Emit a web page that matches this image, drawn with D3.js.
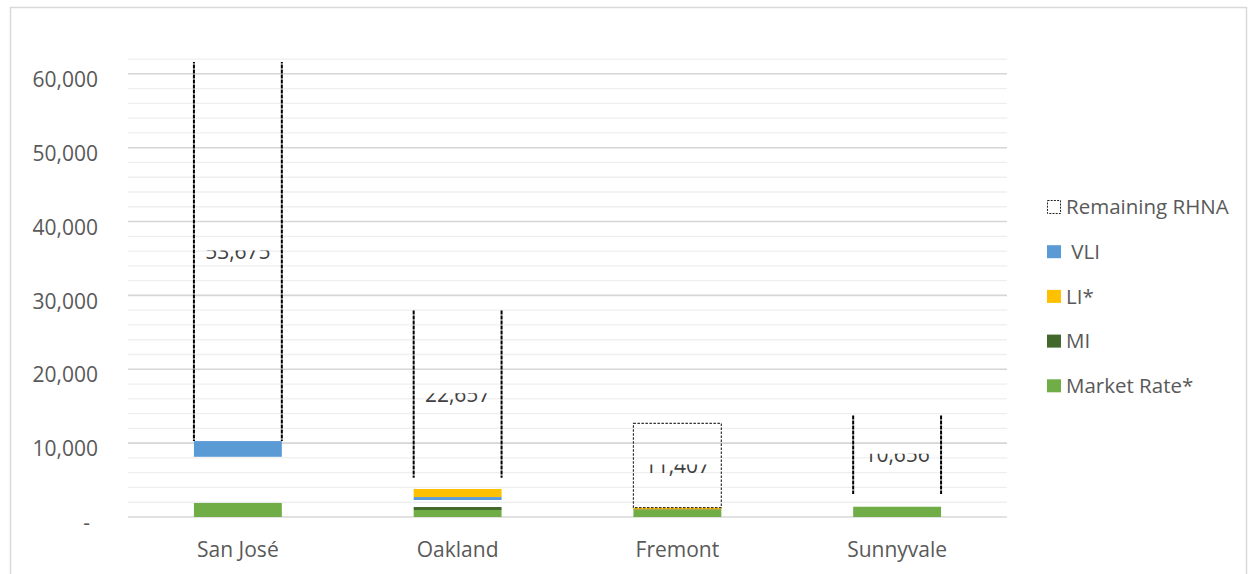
<!DOCTYPE html>
<html>
<head>
<meta charset="utf-8">
<script src="https://cdn.jsdelivr.net/npm/d3@7"></script>
<style>
  body { margin: 0; background: #fff; }
  text { font-family: "Open Sans", "Liberation Sans", sans-serif; }
</style>
</head>
<body>
<svg id="chart" width="1248" height="574"></svg>
<script>
// Housing units permitted by income level, and remaining RHNA, per city.
const cities = ["San José", "Oakland", "Fremont", "Sunnyvale"];

// Segments as [from, to] in housing units; null where a city has none.
const marketRate = [[0, 1900], [0, 950], [0, 950], [0, 1390]];
const mi         = [null, [950, 1350], [950, 1040], null];
const li         = [null, [2700, 3790], [1040, 1260], null];
const vli        = [[8150, 10280], [2300, 2700], null, null];

// Remaining RHNA: where each box starts and how many units remain.
const remainingBase = [10280, 5300, 1260, 3100];
const remaining     = [53675, 22657, 11407, 10656];

const yTicks = [0, 10000, 20000, 30000, 40000, 50000, 60000];
const minorStep = 2000;
const legendLabels = ["Remaining RHNA", " VLI", "LI*", "MI", "Market Rate*"];

// ---- layout / style ----
const colors = { vli: "#5b9bd5", li: "#ffc000", mi: "#43682b", market: "#70ad47" };
const closedOutline = new Set(["Fremont"]);
const plot = { left: 128, right: 1007, top: 62, bottom: 517 };

const svg = d3.select("#chart");

// outer chart frame
svg.append("rect")
  .attr("x", 10.5).attr("y", 7.5).attr("width", 1236).attr("height", 580)
  .attr("fill", "none").attr("stroke", "#d9d9d9").attr("stroke-width", 1.5);

const x = d3.scaleBand().domain(cities)
  .range([plot.left, plot.right]).paddingInner(0.6).paddingOuter(0.3);
const y = d3.scaleLinear().domain([0, 61600]).range([plot.bottom, plot.top]);

// gridlines: minor every 2,000, major every 10,000
const minor = d3.range(minorStep, 62001, minorStep).filter(v => v % 10000 !== 0);
svg.append("g").selectAll("line").data(minor).join("line")
  .attr("x1", plot.left).attr("x2", plot.right)
  .attr("y1", d => y(d)).attr("y2", d => y(d))
  .attr("stroke", "#efefef").attr("stroke-width", 1.3);
svg.append("g").selectAll("line").data(yTicks).join("line")
  .attr("x1", plot.left).attr("x2", plot.right)
  .attr("y1", d => y(d)).attr("y2", d => y(d))
  .attr("stroke", d => d === 0 ? "#d9d9d9" : "#d6d6d6").attr("stroke-width", 1.6);

// y axis labels
const yAxis = svg.append("g").attr("transform", `translate(98,0)`)
  .call(d3.axisLeft(y).tickValues(yTicks).tickSize(0).tickPadding(0)
    .tickFormat(d => d === 0 ? "-" : d3.format(",")(d)));
yAxis.select(".domain").remove();
yAxis.selectAll("text")
  .attr("font-size", 21).attr("fill", "#595959")
  .attr("font-family", '"Open Sans", sans-serif')
  .attr("dy", "0.6em")
  .attr("dx", d => d === 0 ? -8 : 0);

// category labels
svg.append("g").selectAll("text").data(cities).join("text")
  .attr("x", d => x(d) + x.bandwidth() / 2).attr("y", 557)
  .attr("text-anchor", "middle").attr("font-size", 21).attr("fill", "#595959")
  .text(d => d);

// clip for bars
const defs = svg.append("defs");
defs.append("clipPath").attr("id", "plotClip").append("rect")
  .attr("x", plot.left).attr("y", y(61600))
  .attr("width", plot.right - plot.left).attr("height", y(0) - y(61600));

const bars = svg.append("g").attr("clip-path", "url(#plotClip)");

function drawSegments(values, color) {
  const rows = cities.map((c, i) => ({ c, seg: values[i] })).filter(d => d.seg);
  bars.append("g").selectAll("rect").data(rows).join("rect")
    .attr("x", d => x(d.c)).attr("width", x.bandwidth())
    .attr("y", d => y(d.seg[1])).attr("height", d => y(d.seg[0]) - y(d.seg[1]))
    .attr("fill", color);
}
drawSegments(marketRate, colors.market);
drawSegments(mi, colors.mi);
drawSegments(li, colors.li);
drawSegments(vli, colors.vli);

// remaining RHNA boxes (outline only)
const rem = cities.map((c, i) => ({
  c, base: remainingBase[i], value: remaining[i], top: remainingBase[i] + remaining[i]
}));
const remG = bars.append("g");
rem.forEach(d => {
  const x0 = x(d.c), x1 = x(d.c) + x.bandwidth();
  if (closedOutline.has(d.c)) {
    remG.append("rect")
      .attr("x", x0).attr("y", y(d.top))
      .attr("width", x.bandwidth()).attr("height", y(d.base) - y(d.top))
      .attr("fill", "none").attr("stroke", "#333").attr("stroke-width", 1.2)
      .attr("stroke-dasharray", "2.5,1.5");
  } else {
    [x0, x1].forEach(xx => {
      remG.append("line")
        .attr("x1", xx).attr("x2", xx)
        .attr("y1", y(d.top)).attr("y2", y(d.base))
        .attr("stroke", "#000").attr("stroke-width", 2)
        .attr("stroke-dasharray", "4,1");
    });
  }
});

// value labels for remaining RHNA, centred in the visible part of each box
const labelSize = 21;
rem.forEach((d, i) => {
  const top = Math.min(d.top, y.domain()[1]);
  const cy = (y(top) + y(d.base)) / 2;
  const baseline = cy + 0.357 * labelSize;
  const id = "lblClip" + i;
  defs.append("clipPath").attr("id", id).append("rect")
    .attr("x", x(d.c) - 20).attr("y", cy - 0.05 * labelSize)
    .attr("width", x.bandwidth() + 40).attr("height", labelSize);
  svg.append("text")
    .attr("clip-path", `url(#${id})`)
    .attr("x", x(d.c) + x.bandwidth() / 2).attr("y", baseline)
    .attr("text-anchor", "middle").attr("font-size", labelSize).attr("fill", "#404040")
    .text(d3.format(",")(d.value));
});

// legend
const legendKeys = ["remaining", "vli", "li", "mi", "market"];
const legendSize = 20.5;
const lg = svg.append("g");
legendKeys.forEach((k, i) => {
  const cy = 207 + i * 44.7;
  if (k === "remaining") {
    lg.append("rect").attr("x", 1047.5).attr("y", cy - 6.5).attr("width", 13).attr("height", 13)
      .attr("fill", "none").attr("stroke", "#222").attr("stroke-width", 1)
      .attr("stroke-dasharray", "2,1.2");
  } else {
    lg.append("rect").attr("x", 1047).attr("y", cy - 6.5).attr("width", 14).attr("height", 13)
      .attr("fill", colors[k]);
  }
  lg.append("text").attr("x", 1066).attr("y", cy + 0.357 * legendSize)
    .attr("font-size", legendSize).attr("fill", "#595959")
    .style("white-space", "pre")
    .text(legendLabels[i]);
});
</script>
</body>
</html>
